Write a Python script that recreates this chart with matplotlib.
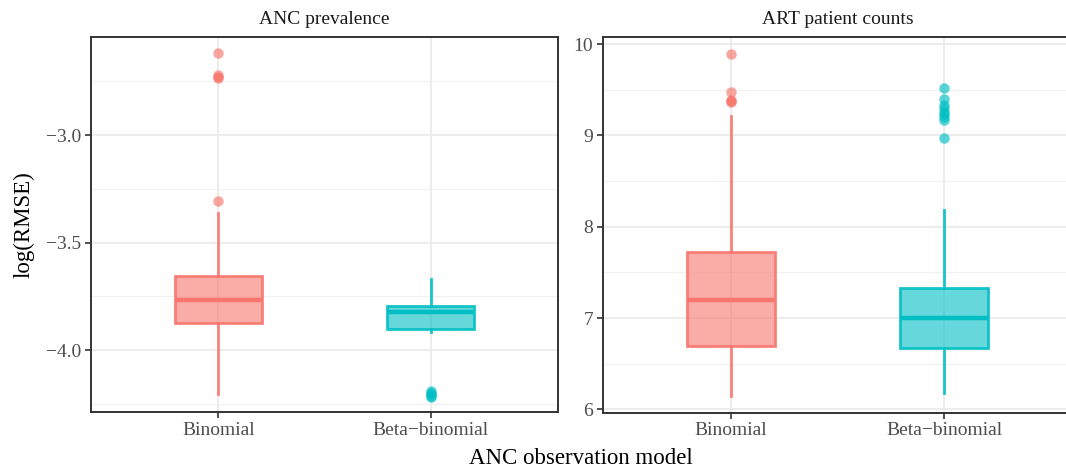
import matplotlib
matplotlib.use("Agg")
import matplotlib.pyplot as plt
from matplotlib.colors import to_rgba
from matplotlib.ticker import MultipleLocator

plt.rcParams['font.family'] = ['Liberation Serif', 'DejaVu Serif']

# ---- data ----
categories = ["Binomial", "Beta\u2212binomial"]
colors = ["#F8766D", "#00BFC4"]

# ANC prevalence panel
anc_q1 = [-3.874, -3.902]
anc_med = [-3.767, -3.822]
anc_q3 = [-3.654, -3.795]
anc_whislo = [-4.205, -3.915]
anc_whishi = [-3.363, -3.670]
anc_fliers = [[-2.619, -2.721, -2.730, -2.735, -3.307],
              [-4.190, -4.198, -4.205, -4.212, -4.220]]

# ART patient counts panel
art_q1 = [6.699, 6.677]
art_med = [7.202, 7.000]
art_q3 = [7.721, 7.334]
art_whislo = [6.152, 6.178]
art_whishi = [9.21, 8.18]
art_fliers = [[9.89, 9.47, 9.39, 9.38, 9.37],
              [9.515, 9.395, 9.33, 9.30, 9.26, 9.23, 9.20, 9.17, 8.975]]

panel_titles = ["ANC prevalence", "ART patient counts"]


def make_stats(q1, med, q3, lo, hi, fliers):
    stats = []
    for i in range(len(q1)):
        stats.append(dict(q1=q1[i], med=med[i], q3=q3[i],
                          whislo=lo[i], whishi=hi[i], fliers=fliers[i]))
    return stats


def draw_panel(ax, stats, title, major, minor, ylim):
    #grid first so the boxes sit on top
    ax.set_axisbelow(True)
    ax.yaxis.set_major_locator(MultipleLocator(major))
    ax.yaxis.set_minor_locator(MultipleLocator(minor))
    ax.grid(which='major', color='#EBEBEB', lw=1.3)
    ax.grid(which='minor', axis='y', color='#F0F0F0', lw=0.8)

    for i, st in enumerate(stats):
        c = colors[i]
        ax.bxp([st], positions=[i + 1], widths=0.41, patch_artist=True,
               showcaps=False,
               boxprops=dict(facecolor=to_rgba(c, 0.6), edgecolor=to_rgba(c, 0.9), lw=2.0),
               medianprops=dict(color=c, lw=3.2),
               whiskerprops=dict(color=to_rgba(c, 0.9), lw=2.0),
               flierprops=dict(marker='o', markerfacecolor=c, markeredgecolor='none',
                               markersize=7.5, alpha=0.65))
    ax.set_xlim(0.4, 2.6)
    ax.set_ylim(*ylim)
    ax.set_xticks([1, 2])
    ax.set_xticklabels(categories)
    ax.tick_params(which='major', length=4, width=1.2, color='#333333',
                   labelsize=14, labelcolor='#4D4D4D', pad=3)
    ax.tick_params(which='minor', length=0)
    for s in ax.spines.values():
        s.set_color('#333333')
        s.set_linewidth(1.4)
    ax.set_title(title, fontsize=14, color='#1A1A1A', pad=9)


fig = plt.figure(figsize=(10.66, 4.76), dpi=100)
W, H = 1066.0, 476.0
ax1 = fig.add_axes([91 / W, 1 - 412 / H, (558 - 91) / W, (412 - 37) / H])
ax2 = fig.add_axes([603 / W, 1 - 412.5 / H, (1072 - 603) / W, (412.5 - 37) / H])

draw_panel(ax1, make_stats(anc_q1, anc_med, anc_q3, anc_whislo, anc_whishi, anc_fliers),
           panel_titles[0], 0.5, 0.25, (-4.288, -2.544))
draw_panel(ax2, make_stats(art_q1, art_med, art_q3, art_whislo, art_whishi, art_fliers),
           panel_titles[1], 1, 0.5, (5.967, 10.077))

ax1.set_ylabel("log(RMSE)", fontsize=16.5, color='black', labelpad=8)
fig.text(581 / W, 1 - 458 / H, "ANC observation model", ha='center', va='center',
         fontsize=16.5, color='black')

fig.savefig("out.png", dpi=100)
